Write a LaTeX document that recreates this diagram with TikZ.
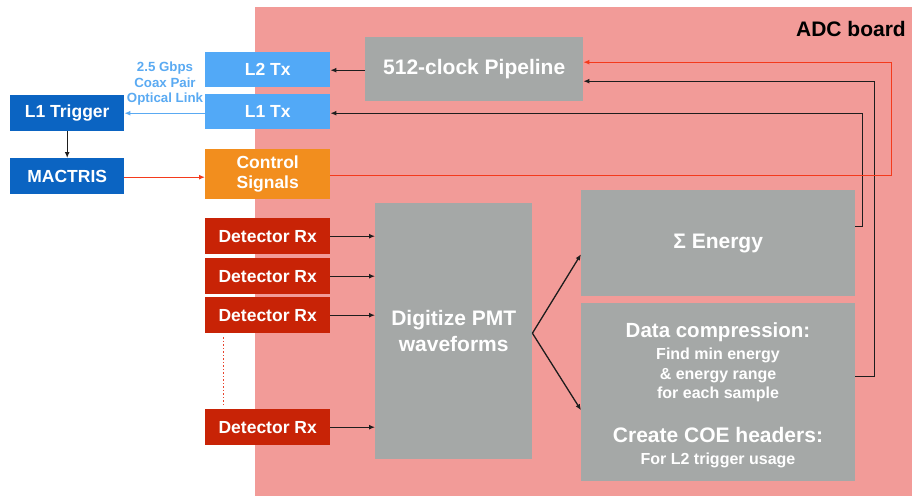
\documentclass[tikz,border=0pt]{standalone}
\usepackage{fontspec}
\setmainfont{Liberation Sans}
\usetikzlibrary{arrows.meta,calc}
\definecolor{board}{HTML}{F29B98}
\definecolor{procgray}{HTML}{A5A8A7}
\definecolor{txblue}{HTML}{52A9F7}
\definecolor{trigblue}{HTML}{0B64C2}
\definecolor{ctrlorange}{HTML}{F28E1E}
\definecolor{rxred}{HTML}{C82306}
\definecolor{sigred}{HTML}{F43A1C}
\definecolor{wire}{HTML}{1E1E1E}
\definecolor{linkblue}{HTML}{5AAAF2}
\definecolor{dotred}{HTML}{E8442E}
\newcommand{\fsz}[2]{\fontsize{#1}{#2}\selectfont}
\begin{document}
\begin{tikzpicture}[x=1pt,y=-1pt,
  blk/.style={rectangle, inner sep=0pt, anchor=north west, text=white,
    font=\bfseries\fsz{17.5}{20}, align=center},
  bigblk/.style={blk, font=\bfseries\fsz{21}{26}},
  txt/.style={inner sep=0pt, text=white, anchor=base},
  arr/.style={draw=wire, line width=1.3pt, -{Latex[length=6pt,width=5pt]}},
  redarr/.style={draw=sigred, line width=1.3pt, -{Latex[length=6pt,width=5pt]}},
  bluearr/.style={draw=linkblue, line width=1.3pt, -{Latex[length=6pt,width=5pt]}}]
\useasboundingbox (0,0) rectangle (912,496);

% ADC board area
\fill[board] (255,7) rectangle (912,496);
\node[anchor=base east, inner sep=0pt, font=\bfseries\fsz{21}{25}] (adc) at (906,36) {ADC board};

% off-board trigger blocks
\node[blk, fill=trigblue, minimum width=114pt, minimum height=36pt] (l1trig) at (10,95) {L1 Trigger};
\node[blk, fill=trigblue, minimum width=114pt, minimum height=36pt] (mactris) at (10,158) {MACTRIS};

% link blocks
\node[blk, fill=txblue, minimum width=125pt, minimum height=35pt] (l2tx) at (205,52) {L2 Tx};
\node[blk, fill=txblue, minimum width=125pt, minimum height=35pt] (l1tx) at (205,94) {L1 Tx};
\node[blk, fill=ctrlorange, minimum width=125pt, minimum height=50pt] (ctrl) at (205,149) {Control\\Signals};

\node[inner sep=0pt, align=center, text=linkblue, font=\bfseries\fsz{13.3}{15.5}] (link) at (165,84)
  {2.5 Gbps\\Coax Pair\\Optical Link};

% detector receivers
\node[blk, fill=rxred, minimum width=125pt, minimum height=36pt] (det1) at (205,218) {Detector Rx};
\node[blk, fill=rxred, minimum width=125pt, minimum height=36pt] (det2) at (205,258) {Detector Rx};
\node[blk, fill=rxred, minimum width=125pt, minimum height=36pt] (det3) at (205,297) {Detector Rx};
\node[blk, fill=rxred, minimum width=125pt, minimum height=36pt] (det4) at (205,409) {Detector Rx};

% processing blocks
\node[bigblk, fill=procgray, minimum width=218pt, minimum height=64pt] (pipe) at (365,37) {512-clock Pipeline};
\node[bigblk, fill=procgray, minimum width=157pt, minimum height=256pt] (dig) at (375,203) {Digitize PMT\\waveforms};
\node[bigblk, fill=procgray, minimum width=274pt, minimum height=106pt] (energy) at (581,190) {Σ Energy};
\node[blk, fill=procgray, minimum width=274pt, minimum height=178pt] (dcomp) at (581,303) {};

\node[txt, font=\bfseries\fsz{20.5}{24}] (dc1) at (718,337) {Data compression:};
\node[txt, font=\bfseries\fsz{16}{20}] (dc2) at (718,359) {Find min energy};
\node[txt, font=\bfseries\fsz{16}{20}] (dc3) at (718,379) {\& energy range};
\node[txt, font=\bfseries\fsz{16}{20}] (dc4) at (718,398) {for each sample};
\node[txt, font=\bfseries\fsz{21}{24}] (dc5) at (718,442) {Create COE headers:};
\node[txt, font=\bfseries\fsz{16}{20}] (dc6) at (718,464) {For L2 trigger usage};

% connectors
\draw[arr] ([yshift=-1pt]pipe.west) -- ([yshift=-1pt]pipe.west -| l2tx.east);
\draw[bluearr] ([yshift=-1.5pt]l1tx.west) -- ([yshift=-1.5pt]l1tx.west -| l1trig.east);
\draw[arr] (l1trig.south) -- (mactris.north);
\draw[redarr] ([yshift=-1pt]mactris.east) -- ([yshift=-1pt]mactris.east -| ctrl.west);

\draw[arr] ([yshift=17pt]energy.east) -- ++(7,0) |- ([yshift=-1.5pt]l1tx.east);
\draw[arr] ([yshift=16pt]dcomp.east) -- ++(19,0) |- ([yshift=-12pt]pipe.east);
\draw[redarr] ([yshift=-1pt]ctrl.east) -- ++(561,0) |- ([yshift=7pt]pipe.east);

\foreach \d in {det1,det2,det3,det4}
  \draw[arr] (\d.east) -- (\d.east -| dig.west);

\draw[dotred, line width=1.3pt, dash pattern=on 1.3pt off 2.2pt]
  ([xshift=-44pt,yshift=-4pt]det3.south) -- ([xshift=-44pt,yshift=2pt]det4.north);

\draw[arr] ([yshift=-2pt]dig.east) -- ([yshift=-11pt]energy.west);
\draw[arr] ([yshift=-2pt]dig.east) -- ([yshift=-18pt]dcomp.west);
\end{tikzpicture}
\end{document}
